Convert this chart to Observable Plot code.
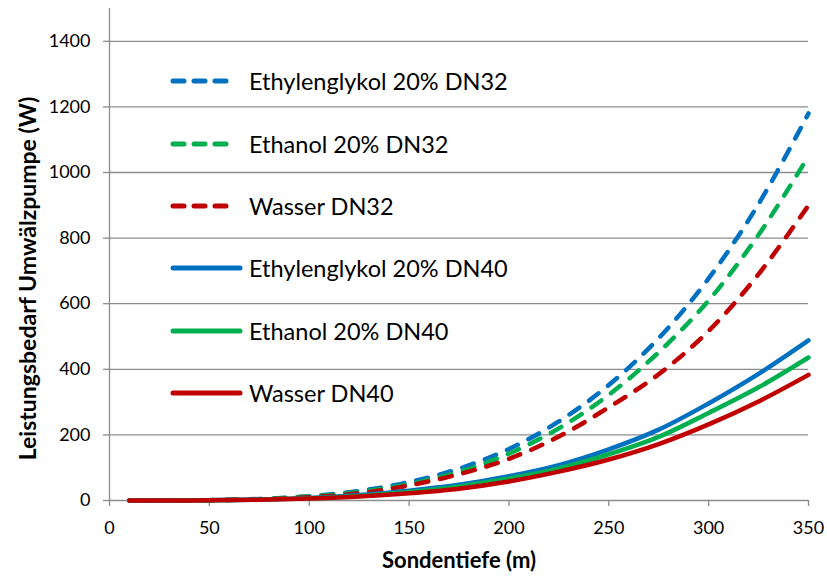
<!DOCTYPE html>
<html><head><meta charset="utf-8">
<script src="https://cdn.jsdelivr.net/npm/d3@7"></script>
<script src="https://cdn.jsdelivr.net/npm/@observablehq/plot@0.6"></script>
<style>
body{margin:0;background:#fff;font-family:Lato,"Open Sans",sans-serif;}
#wrap{position:relative;width:827px;height:578px;}
#legend{position:absolute;left:170px;top:0;}
.row{position:absolute;left:0;height:30px;display:flex;align-items:center;white-space:nowrap;font-size:23.5px;color:#000;}
.row svg{margin-right:5px;}
</style></head>
<body><div id="wrap"><div id="legend"></div></div>
<script>
const depth = [10,25,50,75,100,125,150,175,200,225,250,275,300,325,350];
const seriesNames = ["Ethylenglykol 20% DN32","Ethanol 20% DN32","Wasser DN32","Ethylenglykol 20% DN40","Ethanol 20% DN40","Wasser DN40"];
const eg32 = [0,0.1,1.1,4.6,13,29,56,97,157,241,352,495,677,904,1180];
const et32 = [0,0.1,1,4,12,26,50,87,143,220,322,452,610,810,1050];
const wa32 = [0,0.1,0.8,3.5,10,22,46,80,127,195,284,385,517,690,900];
const eg40 = [0,0.1,1,3,8,17,30,48,74,108,156,216,296,386,488];
const et40 = [0,0.1,0.8,2.5,7,14,26,43,67,98,141,194,267,345,436];
const wa40 = [0,0.1,0.6,2,6,12,22,36,58,88,125,172,232,302,383];
const seriesColors = ["#0070C0","#00B050","#C00000","#0070C0","#00B050","#C00000"];
const seriesDashed = [true,true,true,false,false,false];
const xTicks = [0,50,100,150,200,250,300,350];
const yTicks = [0,200,400,600,800,1000,1200,1400];

const allValues = [eg32,et32,wa32,eg40,et40,wa40];
const rows = [];
allValues.forEach((vals,i)=>vals.forEach((v,j)=>rows.push({series:seriesNames[i],idx:i,x:depth[j],y:v})));

const lineMarks = seriesNames.map((name,i)=>Plot.line(rows.filter(d=>d.idx===i),{
  x:"x",y:"y",stroke:seriesColors[i],strokeWidth:4.5,curve:"catmull-rom",
  strokeDasharray: seriesDashed[i] ? "12,12" : null, strokeLinecap:"round"
}));

const chart = Plot.plot({
  width:827,height:578,marginLeft:109,marginRight:19,marginTop:8,marginBottom:78,
  style:{fontFamily:"Lato, 'Open Sans', sans-serif",fontSize:"18px",color:"#000",background:"#fff"},
  x:{domain:[0,350]},
  y:{domain:[0,1500]},
  marks:[
    Plot.ruleY(yTicks.filter(d=>d>0),{stroke:"#8c8c8c",strokeWidth:1.3}),
    Plot.ruleX([0],{stroke:"#8c8c8c",strokeWidth:1.3}),
    Plot.ruleY([0],{stroke:"#8c8c8c",strokeWidth:1.3}),
    Plot.axisY({ticks:yTicks,tickFormat:d=>String(d),tickSize:6,tickPadding:13,stroke:"#8c8c8c",strokeWidth:1.3,label:null,fill:"#000",fontSize:18}),
    Plot.axisX({ticks:xTicks,tickFormat:d=>String(d),tickSize:6,tickPadding:15,stroke:"#8c8c8c",strokeWidth:1.3,label:null,fill:"#000",fontSize:18}),
    ...lineMarks,
    Plot.text(["Sondentiefe (m)"],{frameAnchor:"bottom",lineAnchor:"middle",textAnchor:"middle",dy:60,fontWeight:"bold",fontSize:22,fill:"#000"}),
    Plot.text(["Leistungsbedarf Umwälzpumpe (W)"],{frameAnchor:"left",textAnchor:"middle",lineAnchor:"middle",dx:-81,dy:24,rotate:-90,fontWeight:"bold",fontSize:23,fill:"#000"})
  ]
});
document.getElementById("wrap").prepend(chart);

const legend = document.getElementById("legend");
const rowCenters = [81,143.5,206,268,330.5,393];
seriesNames.forEach((name,i)=>{
  const r = document.createElement("div");
  r.className="row";
  r.style.top = (rowCenters[i]-15)+"px";
  const w = seriesDashed[i] ? 66 : 74;
  const dash = seriesDashed[i] ? 'stroke-dasharray="11,10"' : '';
  r.innerHTML = `<svg width="${w}" height="10"><line x1="3" y1="5" x2="${w-4}" y2="5" stroke="${seriesColors[i]}" stroke-width="5" stroke-linecap="round" ${dash}/></svg><span style="margin-left:${seriesDashed[i]?8:0}px">${name}</span>`;
  legend.appendChild(r);
});
</script></body></html>
